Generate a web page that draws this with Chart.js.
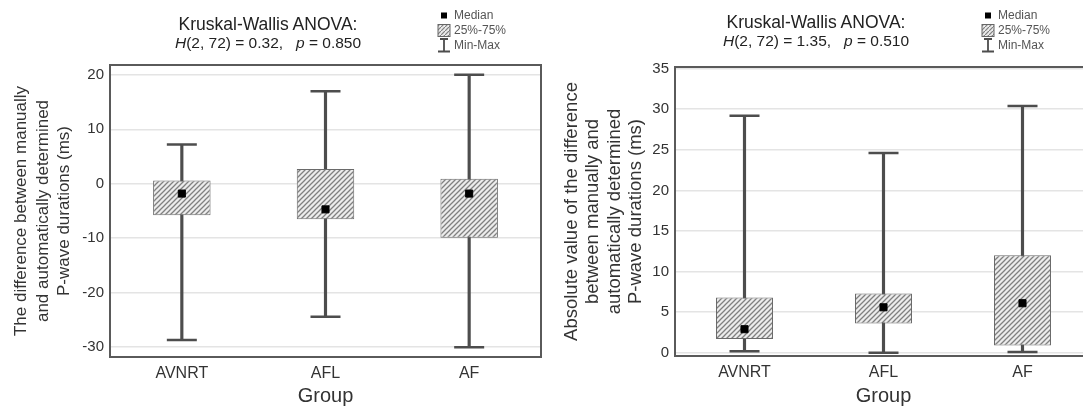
<!DOCTYPE html>
<html lang="en">

<head>
  <meta charset="utf-8">
  <title>P-wave duration differences by group</title>
  <style>
    html, body { margin: 0; padding: 0; background: #fff; }
    body { width: 1083px; height: 406px; overflow: hidden; position: relative; font-family: "Liberation Sans", Arial, sans-serif; }
    .panel { position: absolute; top: 0; height: 406px; }
    .stat { position: absolute; transform: translateX(-50%); text-align: center; font-size: 17.5px; line-height: 18px; color: #222; white-space: nowrap; }
    .stat span { font-size: 15.5px; }
    .legend { position: absolute; font-size: 12px; line-height: 15px; color: #555; }
    .legend div { display: flex; align-items: center; height: 15px; }
    .legend svg { width: 14px; height: 15px; margin-right: 3px; }
  </style>
</head>

<body>
  <div class="panel" style="left: 0; width: 545px;"><canvas id="left"></canvas></div>
  <div class="panel" style="left: 545px; width: 547px;"><canvas id="right"></canvas></div>

  <div class="stat" style="left: 268px; top: 15px;">Kruskal-Wallis ANOVA:<br><span><i>H</i>(2, 72) = 0.32, &nbsp; <i>p</i> = 0.850</span></div>
  <div class="stat" style="left: 816px; top: 13px;">Kruskal-Wallis ANOVA:<br><span><i>H</i>(2, 72) = 1.35, &nbsp; <i>p</i> = 0.510</span></div>

  <div class="legend" style="left: 437px; top: 8px;" id="legL"></div>
  <div class="legend" style="left: 981px; top: 8px;" id="legR"></div>

  <script src="https://cdn.jsdelivr.net/npm/chart.js"></script>
  <script>
    const groups = ["AVNRT", "AFL", "AF"];

    // signed difference, manual - automatic (ms)
    const diffMin = [-28.7, -24.4, -30.0];
    const diffQ1 = [-5.8, -6.5, -9.9];
    const diffMedian = [-1.8, -4.7, -1.8];
    const diffQ3 = [0.6, 2.7, 0.9];
    const diffMax = [7.2, 17.0, 20.0];
    const diffTicks = [-30, -20, -10, 0, 10, 20];

    // absolute difference (ms)
    const absMin = [0.2, 0.0, 0.1];
    const absQ1 = [1.7, 3.6, 0.9];
    const absMedian = [2.9, 5.6, 6.1];
    const absQ3 = [6.8, 7.3, 12.0];
    const absMax = [29.2, 24.6, 30.4];
    const absTicks = [0, 5, 10, 15, 20, 25, 30, 35];

    const legendItems = ["Median", "25%-75%", "Min-Max"];

    const dark = "#4d4d4d";

    // diagonal /// hatching for the quartile boxes
    function hatch() {
      const c = document.createElement("canvas");
      c.width = 5; c.height = 5;
      const g = c.getContext("2d");
      g.fillStyle = "#ececec";
      g.fillRect(0, 0, 5, 5);
      g.strokeStyle = "#808080";
      g.lineWidth = 1.3;
      g.beginPath();
      g.moveTo(-1, 6); g.lineTo(6, -1);
      g.moveTo(-1, 1); g.lineTo(1, -1);
      g.moveTo(4, 6); g.lineTo(6, 4);
      g.stroke();
      return g.createPattern(c, "repeat");
    }

    const frame = {
      id: "frame",
      afterDatasetsDraw(chart) {
        const { ctx, chartArea: a } = chart;
        ctx.save();
        ctx.strokeStyle = "#5a5a5a";
        ctx.lineWidth = 2;
        ctx.strokeRect(a.left, a.top, a.right - a.left, a.bottom - a.top);
        ctx.restore();
      }
    };

    function boxChart(el, o) {
      const pairs = (a, b) => a.map((v, i) => [v, b[i]]);
      const font = (size, lineHeight) => ({ family: "Liberation Sans", size, lineHeight });
      return new Chart(el, {
        data: {
          labels: groups,
          datasets: [{
            type: "line",
            data: o.median,
            showLine: false,
            pointStyle: "rect",
            pointRadius: 5,
            pointBackgroundColor: "#000",
            pointBorderColor: "#000",
            pointBorderWidth: 1,
            order: 0
          }, {
            type: "bar",
            data: pairs(o.q1, o.q3),
            backgroundColor: hatch(),
            borderColor: "#6a6a6a",
            borderWidth: 1,
            borderSkipped: false,
            grouped: false,
            categoryPercentage: 1,
            barPercentage: o.boxWidth,
            order: 1
          }, {
            type: "line",
            data: o.min,
            showLine: false,
            pointStyle: "line",
            pointRadius: 15,
            pointBorderColor: dark,
            pointBorderWidth: 2.5,
            order: 2
          }, {
            type: "line",
            data: o.max,
            showLine: false,
            pointStyle: "line",
            pointRadius: 15,
            pointBorderColor: dark,
            pointBorderWidth: 2.5,
            order: 2
          }, {
            type: "bar",
            data: pairs(o.min, o.max),
            backgroundColor: dark,
            borderWidth: 0,
            grouped: false,
            barThickness: 2.5,
            order: 3
          }]
        },
        options: {
          responsive: true,
          maintainAspectRatio: false,
          animation: false,
          events: [],
          layout: { autoPadding: false, padding: { top: o.top, right: o.right, left: 0, bottom: 0 } },
          plugins: { legend: { display: false }, tooltip: { enabled: false } },
          scales: {
            x: {
              grid: { display: false, drawTicks: false },
              border: { display: false },
              ticks: { color: "#333", font: font(16), padding: 7 },
              title: { display: true, text: "Group", color: "#333", font: font(20, 1), padding: 0 },
              afterFit: (s) => { s.height = o.xh; }
            },
            y: {
              min: o.ymin,
              max: o.ymax,
              afterBuildTicks: (s) => { s.ticks = o.ticks.map((v) => ({ value: v })); },
              grid: { color: "#e4e4e4", lineWidth: 1.5, drawTicks: false },
              border: { display: false },
              ticks: { color: "#333", font: font(15), padding: 6 },
              title: {
                display: true, text: o.title, color: "#333",
                font: font(o.titleSize, 21.5 / o.titleSize),
                padding: { top: o.titlePad, bottom: 0 }
              },
              afterFit: (s) => { s.width = o.yw; }
            }
          }
        },
        plugins: [frame]
      });
    }

    boxChart(document.getElementById("left"), {
      min: diffMin, q1: diffQ1, median: diffMedian, q3: diffQ3, max: diffMax,
      ticks: diffTicks, ymin: -31.8, ymax: 21.8,
      title: ["The difference between manually", "and automatically determined", "P-wave durations (ms)"],
      titleSize: 17, titlePad: 11, top: 65, right: 4, xh: 49, yw: 110, boxWidth: 0.4
    });

    boxChart(document.getElementById("right"), {
      min: absMin, q1: absQ1, median: absMedian, q3: absQ3, max: absMax,
      ticks: absTicks, ymin: -0.4, ymax: 35.2,
      title: ["Absolute value of the difference", "between manually and", "automatically determined", "P-wave durations (ms)"],
      titleSize: 18.5, titlePad: 16, top: 67, right: 0, xh: 50, yw: 130, boxWidth: 0.41
    });

    // legend: median marker, hatched quartile box, min-max whisker
    const icons = [
      '<svg viewBox="0 0 14 15"><rect x="4" y="4.5" width="6" height="6" fill="#000"/></svg>',
      '<svg viewBox="0 0 14 15"><defs><pattern id="hp" width="4" height="4" patternUnits="userSpaceOnUse">' +
        '<rect width="4" height="4" fill="#ececec"/><path d="M-1,5 L5,-1" stroke="#808080" stroke-width="1.2"/></pattern></defs>' +
        '<rect x="1" y="1.5" width="12" height="12" fill="url(#hp)" stroke="#666" stroke-width="1"/></svg>',
      '<svg viewBox="0 0 14 15"><path d="M7,1 V13 M1,13.5 H13 M3,1 H11" stroke="#4d4d4d" stroke-width="1.8" fill="none"/></svg>'
    ];
    for (const id of ["legL", "legR"]) {
      document.getElementById(id).innerHTML = legendItems
        .map((t, i) => "<div>" + icons[i] + "<span>" + t + "</span></div>").join("");
    }
  </script>
</body>

</html>
